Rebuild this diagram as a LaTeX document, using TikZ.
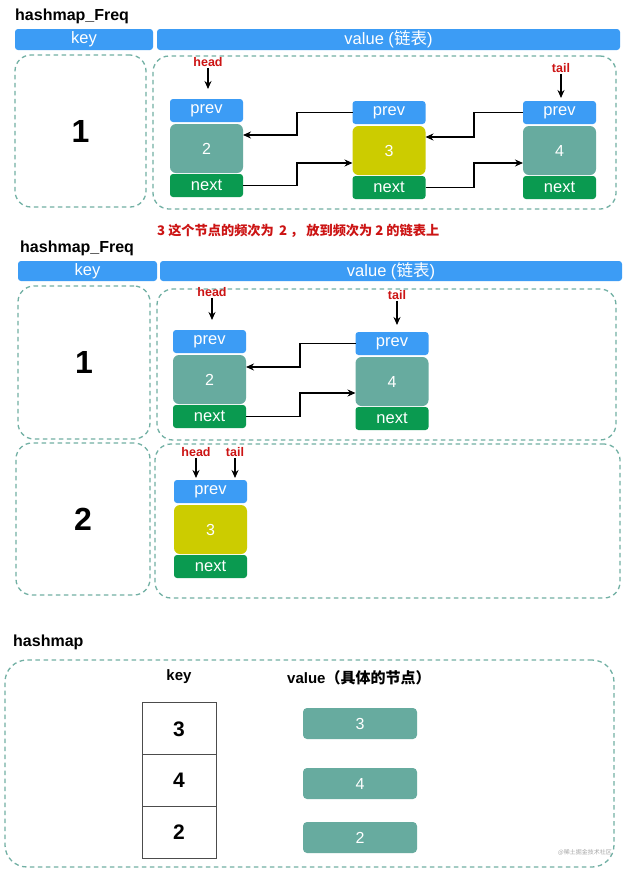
\documentclass[tikz,border=0pt]{standalone}
\usepackage{fontspec}
\setmainfont{Liberation Sans}
\newfontfamily\cjk{Noto Sans CJK SC}
\usetikzlibrary{arrows.meta}
\definecolor{barblue}{HTML}{3C9CF5}
\definecolor{tealc}{HTML}{67AB9F}
\definecolor{yellowc}{HTML}{CCCC00}
\definecolor{nextgreen}{HTML}{0A9A50}
\definecolor{dashc}{HTML}{72B0A4}
\definecolor{redc}{HTML}{CC1414}
\newcommand\fsz[1]{\fontsize{#1}{#1}\selectfont}
\tikzset{
 base/.style={inner sep=0pt, outer sep=0pt},
 bar/.style={base, fill=barblue, rounded corners=3pt, text=white, font=\fsz{16.5}},
 prevbox/.style={base, fill=barblue, rounded corners=3pt, text=white, font=\fsz{16.5}, minimum width=73pt, minimum height=23pt},
 bodybox/.style={base, rounded corners=6pt, text=white, font=\fsz{16}, minimum width=73pt, minimum height=49pt},
 nextbox/.style={base, fill=nextgreen, rounded corners=3pt, text=white, font=\fsz{16.5}, minimum width=73pt, minimum height=23pt},
 dbox/.style={base, draw=dashc, dash pattern=on 4.5pt off 3.5pt, line width=1.3pt, rounded corners=16pt},
 keynum/.style={font=\bfseries\fsz{32}},
 lbl/.style={text=redc, font=\bfseries\fsz{12.5}, inner sep=1pt},
 ttl/.style={font=\bfseries\fsz{16}, inner sep=0pt, anchor=base west},
 arr/.style={-{Stealth[length=8pt,width=7pt]}, line width=1.5pt, black},
 cell/.style={base, draw=black!70, line width=1pt, minimum width=74pt, minimum height=51.7pt, font=\bfseries\fsz{21}},
 vbox/.style={base, fill=tealc, rounded corners=4pt, text=white, font=\fsz{16}, minimum width=114pt, minimum height=31pt},
}
\newcommand\LLnode[5]{%
 \node[prevbox] (#1p) at (#2,#3+11.5) {prev};
 \node[bodybox, fill=#4] (#1) at (#2,#3+49.5) {#5};
 \node[nextbox] (#1n) at (#2,#3+86.5) {next};
}
\begin{document}
\begin{tikzpicture}[x=1pt,y=-1pt]
\fill[white] (0,0) rectangle (622,871);
\useasboundingbox (0,0) rectangle (622,871);

% ---------- section 1 ----------
\node[ttl] (title1) at (15,20) {hashmap\_Freq};
\node[bar, minimum width=138pt, minimum height=21pt] (kh1) at (84,39.5) {key};
\node[bar, minimum width=463pt, minimum height=21pt] (vh1) at (388.5,39.5) {value ({\cjk 链表})};
\node[dbox, keynum, minimum width=131pt, minimum height=152pt] (k1) at (80.5,131) {1};
\node[dbox, minimum width=463pt, minimum height=153pt] (v1) at (384.5,132.5) {};

\LLnode{s1a}{206.5}{99}{tealc}{2}
\LLnode{s1b}{389}{101}{yellowc}{3}
\LLnode{s1c}{559.5}{101}{tealc}{4}

\node[lbl] (h1) at (208,62) {head};
\coordinate (h1e) at (208,89);
\draw[arr] (h1) -- (h1e);
\node[lbl] (t1) at (561,68) {tail};
\coordinate (t1e) at (561,98);
\draw[arr] (t1) -- (t1e);

\draw[arr] (s1bp.west) -| (297,135) -- (s1a.east |- 0,135);
\draw[arr] (s1an.east) -| (297,163) -- (s1b.west |- 0,163);
\draw[arr] (s1cp.west) -| (474,137) -- (s1b.east |- 0,137);
\draw[arr] (s1bn.east) -| (474,163) -- (s1c.west |- 0,163);

\node[anchor=west, text=redc, font=\cjk\bfseries\fsz{13.2}, inner sep=0pt] (note) at (157,231) {3 这个节点的频次为 \,2 ， 放到频次为 2 的链表上};

% ---------- section 2 ----------
\node[ttl] (title2) at (20,252) {hashmap\_Freq};
\node[bar, minimum width=139pt, minimum height=20pt] (kh2) at (87.5,271) {key};
\node[bar, minimum width=462pt, minimum height=20pt] (vh2) at (391,271) {value ({\cjk 链表})};
\node[dbox, keynum, minimum width=132pt, minimum height=153pt] (k2a) at (84,362.5) {1};
\node[dbox, minimum width=459pt, minimum height=151pt] (v2a) at (386.5,364.5) {};
\node[dbox, keynum, minimum width=134pt, minimum height=152pt] (k2b) at (83,519) {2};
\node[dbox, minimum width=465pt, minimum height=154pt] (v2b) at (387.5,521) {};

\LLnode{s2a}{209.5}{330}{tealc}{2}
\LLnode{s2c}{392}{332}{tealc}{4}
\LLnode{s2b}{210.5}{480}{yellowc}{3}

\node[lbl] (h2) at (212,292) {head};
\coordinate (h2e) at (212,320);
\draw[arr] (h2) -- (h2e);
\node[lbl] (t2) at (397,295) {tail};
\coordinate (t2e) at (397,325);
\draw[arr] (t2) -- (t2e);

\draw[arr] (s2cp.west) -| (300,367) -- (s2a.east |- 0,367);
\draw[arr] (s2an.east) -| (300,393) -- (s2c.west |- 0,393);

\node[lbl] (h3) at (196,452) {head};
\coordinate (h3e) at (196,478);
\draw[arr] (h3) -- (h3e);
\node[lbl] (t3) at (235,452) {tail};
\coordinate (t3e) at (235,478);
\draw[arr] (t3) -- (t3e);

% ---------- section 3 ----------
\node[ttl] (title3) at (13,646) {hashmap};
\node[dbox, minimum width=609pt, minimum height=207pt, rounded corners=22pt] (hm) at (309.5,763.5) {};
\node[font=\bfseries\fsz{15}, inner sep=0pt] (keyl) at (179,677) {key};
\node[anchor=west, font=\bfseries\fsz{15}, inner sep=0pt] (vall) at (287,678) {value{\cjk （具体的节点）}};

\node[cell] (c3) at (179,728.8) {3};
\node[cell] (c4) at (179,780.5) {4};
\node[cell] (c2) at (179,832.2) {2};

\node[vbox] (n3) at (360,723.5) {3};
\node[vbox] (n4) at (360,783.5) {4};
\node[vbox] (n2) at (360,837.5) {2};

\node[anchor=east, text=black!35, font=\cjk\fsz{6}, inner sep=0pt] (wm) at (612,852) {@稀土掘金技术社区};
\end{tikzpicture}
\end{document}
